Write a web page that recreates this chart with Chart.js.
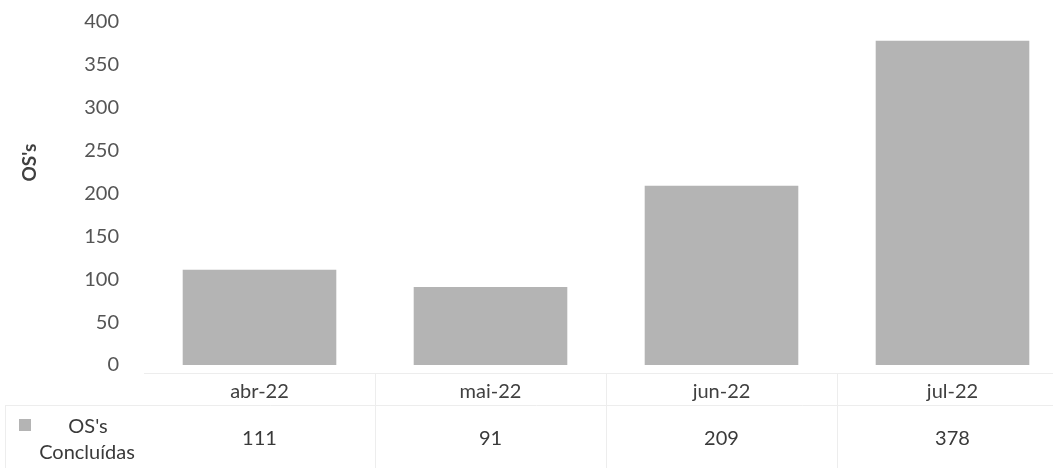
<!DOCTYPE html>
<html>
<head>
<meta charset="utf-8">
<script src="https://cdn.jsdelivr.net/npm/chart.js@4/dist/chart.umd.min.js"></script>
<style>
  html, body { margin: 0; padding: 0; background: #fff; overflow: hidden; }
  #wrap { position: relative; width: 1068px; height: 468px; }
</style>
</head>
<body>
<div id="wrap"><canvas id="osChart"></canvas></div>
<script>
// data
const months = ['abr-22', 'mai-22', 'jun-22', 'jul-22'];
const osConcluidas = [111, 91, 209, 378];
const seriesName = ["OS's", 'Concluídas'];
const axisTitle = "OS's";

const FONT = 'Lato, "Open Sans", sans-serif';
const barColor = '#b4b4b4';
const lineColor = '#ededed';

// draws the data table under the axis, the legend key and the y title
const dataTable = {
    id: 'dataTable',
    afterDraw(chart) {
        const ctx = chart.ctx;
        const x = chart.scales.x;
        const area = chart.chartArea;
        const step = x.getPixelForValue(1) - x.getPixelForValue(0);
        const tableTop = area.bottom + 8;
        const rowLine = area.bottom + 40;
        const valueY = area.bottom + 74;

        ctx.save();
        ctx.strokeStyle = lineColor;
        ctx.lineWidth = 1;
        ctx.beginPath();
        ctx.moveTo(x.getPixelForValue(0) - step / 2, tableTop + 0.5);
        ctx.lineTo(chart.width, tableTop + 0.5);
        ctx.moveTo(5, rowLine + 0.5);
        ctx.lineTo(chart.width, rowLine + 0.5);
        ctx.moveTo(5.5, rowLine);
        ctx.lineTo(5.5, chart.height);
        months.forEach((m, i) => {
            if (i === 0) return;
            const bx = Math.round(x.getPixelForValue(i) - step / 2) + 0.5;
            ctx.moveTo(bx, tableTop);
            ctx.lineTo(bx, chart.height);
        });
        ctx.stroke();

        // values row
        ctx.fillStyle = '#3a3a3a';
        ctx.font = '20px ' + FONT;
        ctx.textAlign = 'center';
        ctx.textBaseline = 'middle';
        osConcluidas.forEach((v, i) => {
            ctx.fillText(String(v), x.getPixelForValue(i), valueY);
        });

        // legend key
        ctx.fillStyle = barColor;
        ctx.fillRect(19, valueY - 20, 12, 12);
        ctx.fillStyle = '#3a3a3a';
        ctx.fillText(seriesName[0], 88, valueY - 12);
        ctx.fillText(seriesName[1], 87, valueY + 14);

        // y axis title
        ctx.translate(30, area.top + (area.bottom - area.top) * 0.41);
        ctx.rotate(-Math.PI / 2);
        ctx.font = 'bold 19px ' + FONT;
        ctx.fillStyle = '#404040';
        ctx.fillText(axisTitle, 0, 0);
        ctx.restore();
    }
};

const ctx = document.getElementById('osChart').getContext('2d');
new Chart(ctx, {
    type: 'bar',
    data: {
        labels: months,
        datasets: [{
            label: seriesName.join(' '),
            data: osConcluidas,
            backgroundColor: barColor,
            borderWidth: 0,
            categoryPercentage: 1,
            barPercentage: 0.665
        }]
    },
    options: {
        responsive: true,
        maintainAspectRatio: false,
        animation: false,
        layout: { padding: { top: 22, right: 0, bottom: 57, left: 0 } },
        plugins: {
            legend: { display: false },
            tooltip: { enabled: false }
        },
        scales: {
            x: {
                grid: { display: false },
                border: { display: false },
                ticks: {
                    color: '#404040',
                    font: { family: FONT, size: 20 },
                    padding: 7,
                    maxRotation: 0
                }
            },
            y: {
                min: 0,
                max: 400,
                grid: { display: false },
                border: { display: false },
                afterFit(scale) {
                    scale.width = 144;
                    scale.paddingTop = 0;
                    scale.paddingBottom = 0;
                },
                ticks: {
                    stepSize: 50,
                    color: '#555',
                    font: { family: FONT, size: 20 },
                    padding: 17
                }
            }
        }
    },
    plugins: [dataTable]
});
</script>
</body>
</html>
